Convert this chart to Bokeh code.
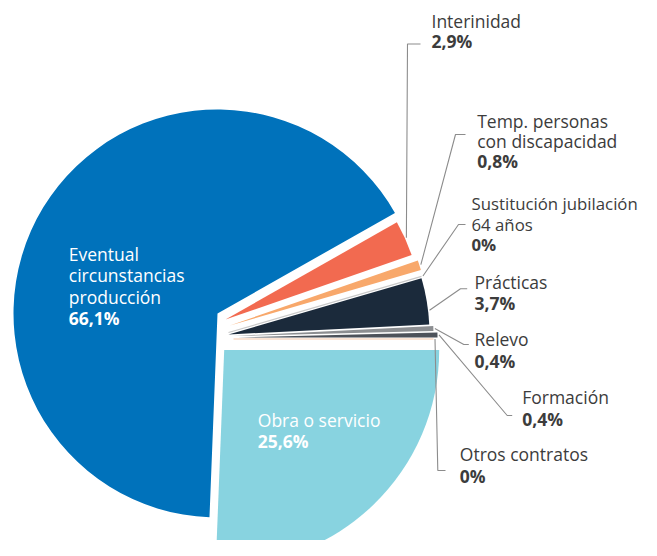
import math
from bokeh.plotting import figure
from bokeh.models import Range1d
from bokeh.core.properties import value
from bokeh.embed import file_html
from bokeh.resources import INLINE

# ---------------- data (slices listed counterclockwise from 3 o'clock) ----------------
categories = ["Otros contratos", "Formación", "Relevo", "Prácticas",
              "Sustitución jubilación 64 años", "Temp. personas con discapacidad",
              "Interinidad", "Eventual circunstancias producción", "Obra o servicio"]
shares = [0.0, 0.4, 0.4, 3.7, 0.0, 0.8, 2.9, 66.1, 25.6]
share_labels = ["0%", "0,4%", "0,4%", "3,7%", "0%", "0,8%", "2,9%", "66,1%", "25,6%"]
label_lines = [["Otros contratos"], ["Formación"], ["Relevo"], ["Prácticas"],
               ["Sustitución jubilación", "64 años"], ["Temp. personas", "con discapacidad"],
               ["Interinidad"], ["Eventual", "circunstancias", "producción"], ["Obra o servicio"]]

# ---------------- style / layout (page pixel coordinates) ----------------
colors = ["#F6C7AA", "#4D525A", "#8C8E91", "#1B2A3B", "#C9C9C9",
          "#F8A86B", "#F26A50", "#0072BB", "#88D3E0"]
# exploded wedge centres and radii
slice_cx = [233, 237, 233, 228, 228, 229.3, 225, 217, 223.7]
slice_cy = [338.5, 337, 335.5, 334, 332, 325, 319, 313, 349.5]
slice_r = [200, 200, 200, 201, 201, 199, 197, 204, 215]
anchor_frac = [0.5, 0.5, 0.5, 0.3, 0.5, 0.5, 0.5, 0.5, 0.5]
inside = [False, False, False, False, False, False, False, True, True]
# label placement: left x, first baseline, line step, font size
lab_x = [459.3, 521.7, 474, 474, 471, 476.7, 431, 68.3, 257.3]
lab_y = [460, 403.3, 345, 288.3, 209.3, 126.5, 26.7, 260, 425.7]
lab_step = [21.5, 21.5, 21.5, 21, 20.7, 20.1, 20.3, 21.4, 21]
lab_fs = ["17.5px"] * 4 + ["16.8px"] + ["17.5px"] * 4
# leader elbow and end
elb = [(437.3, 470), (506.7, 415), (463.3, 344), (460, 288.3), (458, 224),
       (455, 134), (407, 43.5), None, None]
tick_end = [(445, 470), (511.7, 415), (468.3, 344), (466.7, 288.3), (465, 224),
            (465, 134), (420, 43.5), None, None]

FONT = value("Open Sans")
TXT = "#3C3C3C"
LEAD = "#8C8C8C"
TEXT_DY = -6.5

PAGE_H = 556
W, H = 641, 540


def Y(y):
    return PAGE_H - y


p = figure(width=W, height=H, output_backend="svg", toolbar_location=None,
           x_range=Range1d(0, W), y_range=Range1d(PAGE_H - H, PAGE_H),
           x_axis_type=None, y_axis_type=None, min_border=0)
p.outline_line_color = None
p.xgrid.visible = False
p.ygrid.visible = False
p.background_fill_color = "white"

total = sum(shares)
starts, ends = [], []
acc = 0.0
for s in shares:
    a0 = acc / total * 2 * math.pi
    acc += s
    a1 = acc / total * 2 * math.pi
    starts.append(a0)
    ends.append(a1)

# wedges
wx, wy, wr, ws, we, wc = [], [], [], [], [], []
rx, ry, rl, ra, rc = [], [], [], [], []
for i, s in enumerate(shares):
    if s > 0:
        wx.append(slice_cx[i]); wy.append(Y(slice_cy[i])); wr.append(slice_r[i])
        ws.append(starts[i]); we.append(ends[i]); wc.append(colors[i])
    else:
        rx.append(slice_cx[i]); ry.append(Y(slice_cy[i])); rl.append(slice_r[i])
        ra.append(starts[i]); rc.append(colors[i])

p.wedge(x=wx, y=wy, radius=wr, start_angle=ws, end_angle=we,
        fill_color=wc, line_color=None)
p.ray(x=rx, y=ry, length=rl, angle=ra, line_color=rc, line_width=1.2)

# leaders and labels
for i in range(len(shares)):
    a = starts[i] + (ends[i] - starts[i]) * anchor_frac[i]
    if not inside[i]:
        sx = slice_cx[i] + (slice_r[i] + 1.5) * math.cos(a)
        sy = Y(slice_cy[i]) + (slice_r[i] + 1.5) * math.sin(a)
        ex, ey = elb[i]
        tx, ty = tick_end[i]
        p.line([sx, ex, tx], [sy, Y(ey), Y(ty)], line_color=LEAD, line_width=1.1)
        col = TXT
    else:
        col = "white"
    lines = label_lines[i]
    ys = [Y(lab_y[i] + k * lab_step[i] + TEXT_DY) for k in range(len(lines))]
    p.text(x=[lab_x[i]] * len(lines), y=ys, text=lines, text_font=FONT,
           text_font_size=lab_fs[i], text_color=col, text_baseline="alphabetic",
           text_align="left")
    p.text(x=[lab_x[i]], y=[Y(lab_y[i] + len(lines) * lab_step[i] + TEXT_DY)],
           text=[share_labels[i]], text_font=FONT, text_font_size=lab_fs[i],
           text_font_style="bold", text_color=col, text_baseline="alphabetic",
           text_align="left")

open("out.html", "w").write(file_html(p, INLINE))
